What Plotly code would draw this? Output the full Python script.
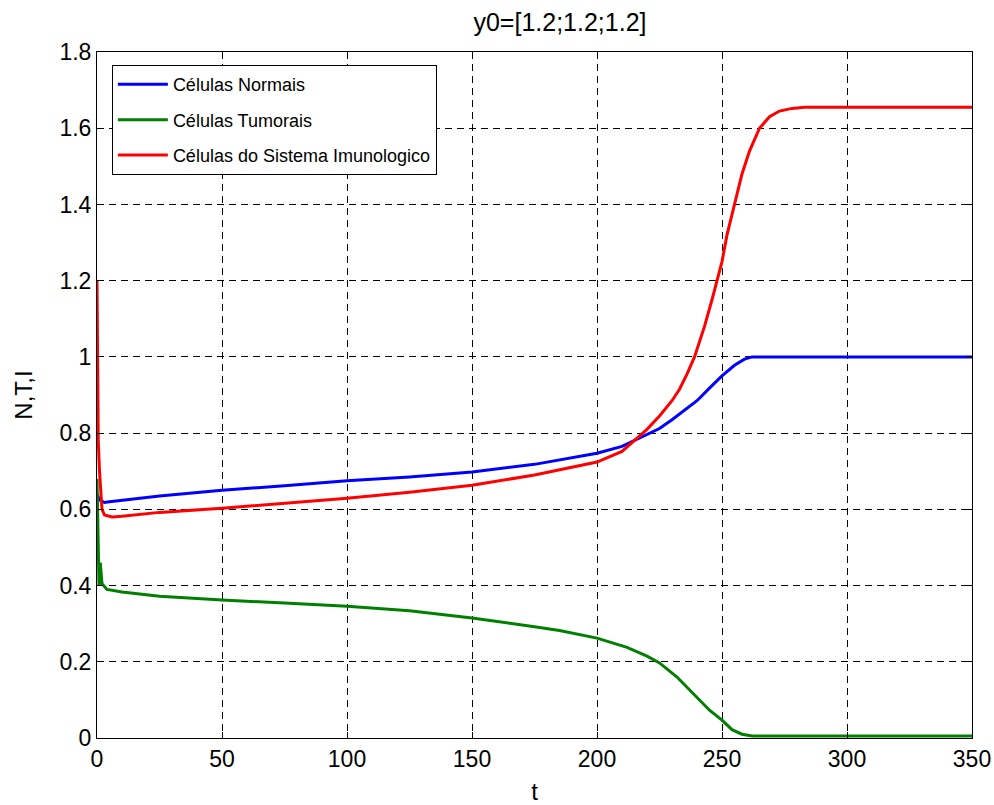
import plotly.graph_objects as go

# ---- data ----
t_normal = [0, 1, 3, 5, 25, 50, 75, 100, 125, 150, 175, 200, 210, 215, 220, 225, 230,
            235, 240, 245, 250, 255, 259, 262, 300, 350]
normal = [0.64, 0.625, 0.618, 0.62, 0.635, 0.65, 0.662, 0.675, 0.685, 0.698, 0.718, 0.747,
          0.765, 0.78, 0.795, 0.812, 0.835, 0.86, 0.885, 0.918, 0.95, 0.978, 0.994, 1.0, 1.0, 1.0]

t_tumor = [0, 0.8, 1.3, 2, 4, 10, 25, 50, 75, 100, 125, 150, 175, 185, 200, 212, 220, 225,
           232, 238, 245, 250, 254, 258, 262, 300, 350]
tumor = [0.68, 0.40, 0.46, 0.405, 0.39, 0.383, 0.372, 0.362, 0.354, 0.346, 0.334, 0.315,
         0.292, 0.282, 0.262, 0.238, 0.215, 0.197, 0.16, 0.12, 0.073, 0.047, 0.022, 0.01,
         0.005, 0.005, 0.005]

t_immune = [0, 0.5, 1, 2, 3, 6, 10, 25, 50, 75, 100, 125, 150, 175, 200, 210, 215, 220, 225,
            230, 233, 236, 239, 243, 246, 248, 250, 252, 255, 258, 261, 265, 269, 273, 278, 283,
            300, 350]
immune = [1.2, 0.78, 0.70, 0.60, 0.585, 0.58, 0.582, 0.592, 0.603, 0.616, 0.629, 0.645,
          0.663, 0.69, 0.724, 0.752, 0.78, 0.81, 0.845, 0.885, 0.915, 0.955, 1.0, 1.08, 1.15,
          1.2, 1.25, 1.32, 1.4, 1.48, 1.54, 1.6, 1.63, 1.645, 1.652, 1.655, 1.655, 1.655]

names = ["Células Normais", "Células Tumorais", "Células do Sistema Imunologico"]
colors = ["#0000FF", "#008000", "#FF0000"]

x_ticks = [0, 50, 100, 150, 200, 250, 300, 350]
y_ticks = [0, 0.2, 0.4, 0.6, 0.8, 1.0, 1.2, 1.4, 1.6, 1.8]
y_labels = ["0", "0.2", "0.4", "0.6", "0.8", "1", "1.2", "1.4", "1.6", "1.8"]

title_text = "y0=[1.2;1.2;1.2]"

fig = go.Figure()
for i, (tt, yy, nm, col) in enumerate(zip([t_normal, t_tumor, t_immune], [normal, tumor, immune],
                                          names, colors)):
    fig.add_trace(go.Scatter(x=tt, y=yy, mode="lines", name=nm, legendgroup=f"g{i}",
                             line=dict(color=col, width=3)))

FONT = "Liberation Sans, Arial"
tickfont = dict(family=FONT, size=23, color="black")

axis_common = dict(
    showline=True, linecolor="black", linewidth=1, mirror="ticks",
    ticks="inside", ticklen=6, tickcolor="black",
    showgrid=True, gridcolor="black", gridwidth=1, griddash="7px,5px",
    zeroline=False, tickfont=tickfont, automargin=False,
)

fig.update_layout(
    width=994, height=805,
    margin=dict(l=97, r=22, t=52, b=67),
    paper_bgcolor="white", plot_bgcolor="white",
    title=dict(text=title_text, x=560 / 994, xanchor="center", y=1 - 22 / 805, yanchor="middle",
               font=dict(family=FONT, size=25, color="black")),
    xaxis=dict(range=[0, 350], tickvals=x_ticks,
               title=dict(text="t", standoff=14, font=dict(family=FONT, size=24, color="black")),
               **axis_common),
    yaxis=dict(range=[0, 1.8], tickvals=y_ticks, ticktext=y_labels,
               title=dict(text="N,T,I", standoff=20, font=dict(family=FONT, size=24, color="black")),
               **axis_common),
    legend=dict(x=0.017, y=0.981, xanchor="left", yanchor="top",
                bgcolor="white", bordercolor="black", borderwidth=1,
                font=dict(family=FONT, size=18, color="black"),
                itemwidth=50, tracegroupgap=9),
    showlegend=True,
)

fig.write_html("out.html")
